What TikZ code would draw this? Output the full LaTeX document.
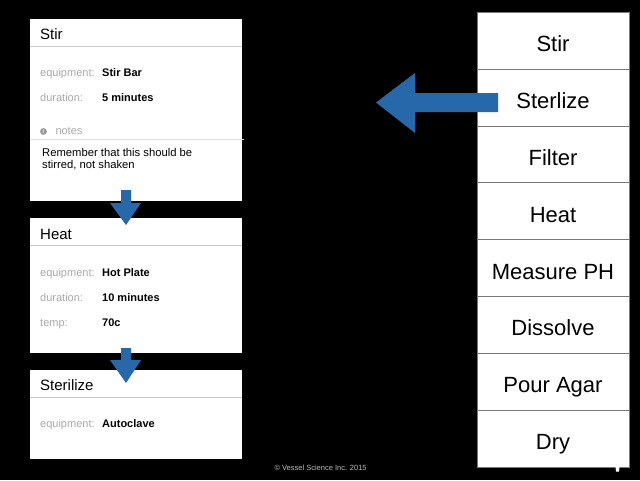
\documentclass[tikz,border=0pt]{standalone}
\usepackage{fontspec}
\setmainfont{Liberation Sans}
\definecolor{arrowblue}{RGB}{38,104,170}
\definecolor{lblgray}{RGB}{170,170,170}
\definecolor{icongray}{RGB}{150,150,150}
\definecolor{rulegray}{RGB}{200,200,200}
\definecolor{listline}{RGB}{120,120,120}
\begin{document}
\begin{tikzpicture}[x=1pt,y=-1pt,
  card/.style={fill=white,draw=none},
  txt/.style={inner sep=0pt,anchor=base west},
  ctitle/.style={txt,font=\fontsize{15}{18}\selectfont},
  flabel/.style={txt,text=lblgray,font=\fontsize{11}{13}\selectfont},
  fvalue/.style={txt,font=\bfseries\fontsize{11}{13}\selectfont},
  notetxt/.style={txt,font=\fontsize{11.25}{13}\selectfont},
  listrow/.style={fill=white,draw=listline,line width=0.6pt,minimum width=152pt,minimum height=56.9pt,inner sep=0pt},
  listtxt/.style={inner sep=0pt,anchor=base,font=\fontsize{22}{26}\selectfont},
  blockarrow/.style={fill=arrowblue,draw=none}]
\useasboundingbox (0,0) rectangle (640,480);
\fill[black] (0,0) rectangle (640,480);

% Card 1: Stir
\fill[card] (30,19) rectangle (242,201);
\draw[rulegray,line width=0.7pt] (30,46.5) -- (242,46.5);
\draw[rulegray!60,line width=0.6pt] (30,139.3) -- (244,139.3);
\node[ctitle] (t1) at (40,39.5) {Stir};
\node[flabel] (l11) at (40,76) {equipment:};
\node[fvalue] (v11) at (102,76) {Stir Bar};
\node[flabel] (l12) at (40,101.7) {duration:};
\node[fvalue] (v12) at (102,101.7) {5 minutes};
\fill[icongray] (43.5,131.5) circle (3.4pt);
\node[inner sep=0pt,text=white,font=\bfseries\fontsize{5.5}{5.5}\selectfont] (icon) at (43.5,131.5) {i};
\node[flabel] (l13) at (55.3,134) {notes};
\node[notetxt] (n1) at (42,156.7) {Remember that this should be};
\node[notetxt] (n2) at (42,168.3) {stirred, not shaken};

% Card 2: Heat
\fill[card] (30,218.3) rectangle (242,353);
\draw[rulegray,line width=0.7pt] (30,245.3) -- (242,245.3);
\node[ctitle] (t2) at (40,239) {Heat};
\node[flabel] (l21) at (40,276) {equipment:};
\node[fvalue] (v21) at (102,276) {Hot Plate};
\node[flabel] (l22) at (40,301.3) {duration:};
\node[fvalue] (v22) at (102,301.3) {10 minutes};
\node[flabel] (l23) at (40,326.7) {temp:};
\node[fvalue] (v23) at (102,326.7) {70c};

% Card 3: Sterilize
\fill[card] (30,369.5) rectangle (242,459.3);
\draw[rulegray,line width=0.7pt] (30,397.3) -- (242,397.3);
\node[ctitle] (t3) at (40,390) {Sterilize};
\node[flabel] (l31) at (40,427.3) {equipment:};
\node[fvalue] (v31) at (102,427.3) {Autoclave};

% Down arrows
\fill[blockarrow] (121,190) -- (131,190) -- (131,203) -- (141,203) -- (126,225) -- (110,203) -- (121,203) -- cycle;
\fill[blockarrow] (121,348) -- (131,348) -- (131,360) -- (141,360) -- (126,383) -- (110,360) -- (121,360) -- cycle;

% Right list
\foreach \lbl [count=\i] in {Stir,Sterlize,Filter,Heat,Measure PH,Dissolve,Pour Agar,Dry}{
  \node[listrow] (r\i) at (553,{12+56.9*(\i-0.5)}) {};
  \node[listtxt] (rt\i) at (553,{12+56.9*(\i-0.5)+11}) {\lbl};
}

% Big left arrow
\fill[blockarrow] (498,93) -- (415,93) -- (415,73) -- (376,102.5) -- (415,133) -- (415,112) -- (498,112) -- cycle;

% small tab
\fill[white] (615.5,467) -- (619.5,467) -- (619,471.5) -- (616,471.5) -- cycle;

% copyright
\node[txt,text=lblgray!80!white,font=\fontsize{7.5}{9}\selectfont] (copy) at (274.3,470) {© Vessel Science Inc. 2015};
\end{tikzpicture}
\end{document}
